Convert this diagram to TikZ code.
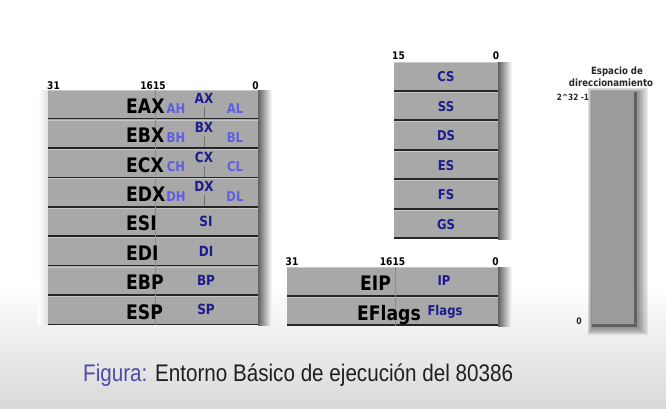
\documentclass[tikz,border=0pt]{standalone}
\usepackage{fontspec}
\newfontfamily\rf{DejaVu Sans}[FakeStretch=0.86]
\newfontfamily\cf{Liberation Sans}[FakeStretch=0.86]
\definecolor{navy}{RGB}{28,28,140}
\definecolor{lblue}{RGB}{95,95,225}
\definecolor{cblue}{RGB}{75,75,170}
\definecolor{boxfill}{RGB}{168,168,168}
\definecolor{boxtop}{RGB}{200,200,200}
\definecolor{sepc}{RGB}{38,38,38}
\definecolor{addrfill}{RGB}{155,155,155}
\tikzset{
  big/.style={font=\rf\bfseries\fontsize{20}{20}\selectfont, inner sep=0pt, anchor=base west, text=black},
  sub/.style={font=\rf\bfseries\fontsize{14}{14}\selectfont, inner sep=0pt, anchor=base, text=navy},
  half/.style={font=\rf\bfseries\fontsize{13.5}{13.5}\selectfont, inner sep=0pt, anchor=base, text=lblue},
  seg/.style={font=\rf\bfseries\fontsize{13.5}{13.5}\selectfont, inner sep=0pt, anchor=base, text=navy},
  bit/.style={font=\rf\bfseries\fontsize{10.5}{10.5}\selectfont, inner sep=0pt, anchor=base, text=black},
  small/.style={font=\rf\bfseries\fontsize{10}{10}\selectfont, inner sep=0pt, anchor=base, text=black!85},
  rowsep/.style={sepc, line width=1.7pt},
  rowtop/.style={boxtop, line width=0.8pt},
  midline/.style={black!45, line width=0.5pt},
  divline/.style={black!55, line width=0.9pt},
}
\newcommand\regrow[4]{%
  \fill[boxfill] (#1,#2) rectangle (#3,#4);
  \draw[rowtop] (#1,#2+0.6) -- (#3,#2+0.6);
  \draw[rowsep] (#1,#4-0.8) -- (#3,#4-0.8);
}
\begin{document}
\begin{tikzpicture}[x=1pt,y=-1pt]
\useasboundingbox (0,0) rectangle (666,408);
% background
\fill[white] (0,0) rectangle (666,408);
\shade[top color=white, bottom color=black!15] (0,285) rectangle (666,408);

% ---------- general registers ----------
\shade[left color=white, right color=black!12] (38,90) rectangle (48,325.2);
\shade[left color=black!62, right color=white] (258,90) rectangle (272,325.2);
\foreach \i in {0,...,7} {
  \pgfmathsetmacro\yt{90+29.4*\i}
  \pgfmathsetmacro\yb{90+29.4*(\i+1)}
  \regrow{48}{\yt}{258}{\yb}
}
\draw[midline] (155,90) -- (155,325);
\foreach \i in {0,...,3} {
  \pgfmathsetmacro\yt{90+29.4*\i}
  \draw[divline] (204,\yt+17) -- (204,\yt+28);
}
\node[bit] (b31) at (53.5,89) {31};
\node[bit] (b1615) at (153,89) {1615};
\node[bit] (b0) at (255.5,89) {0};

\node[big] (eax) at (126,113.3) {EAX};
\node[big] (ebx) at (126,142.7) {EBX};
\node[big] (ecx) at (126,172.1) {ECX};
\node[big] (edx) at (126,201.5) {EDX};
\node[big] (esi) at (126,230.9) {ESI};
\node[big] (edi) at (126,260.3) {EDI};
\node[big] (ebp) at (126,289.7) {EBP};
\node[big] (esp) at (126,319.1) {ESP};

\node[sub] (ax) at (204,103.5) {AX};
\node[sub] (bx) at (204,132.9) {BX};
\node[sub] (cx) at (204,162.3) {CX};
\node[sub] (dx) at (204,191.7) {DX};
\node[half] (ah) at (176,113) {AH};
\node[half] (bh) at (176,142.4) {BH};
\node[half] (ch) at (176,171.8) {CH};
\node[half] (dh) at (176,201.2) {DH};
\node[half] (al) at (235,113) {AL};
\node[half] (bl) at (235,142.4) {BL};
\node[half] (cl) at (235,171.8) {CL};
\node[half] (dl) at (235,201.2) {DL};
\node[sub] (si) at (206,226.7) {SI};
\node[sub] (di) at (206,256.1) {DI};
\node[sub] (bp) at (206,285.5) {BP};
\node[sub] (sp) at (206,314.9) {SP};

% ---------- segment registers ----------
\shade[left color=black!62, right color=white] (498,62) rectangle (512,239);
\foreach \i in {0,...,5} {
  \pgfmathsetmacro\yt{62+29.5*\i}
  \pgfmathsetmacro\yb{62+29.5*(\i+1)}
  \regrow{394}{\yt}{498}{\yb}
}
\node[bit] (s15) at (398.5,59.5) {15};
\node[bit] (s0) at (496,59.5) {0};
\node[seg] (cs) at (446,81.7) {CS};
\node[seg] (ss) at (446,111.2) {SS};
\node[seg] (ds) at (446,140.7) {DS};
\node[seg] (es) at (446,170.2) {ES};
\node[seg] (fs) at (446,199.7) {FS};
\node[seg] (gs) at (446,229.2) {GS};

% ---------- EIP / EFlags ----------
\shade[left color=black!62, right color=white] (498,267) rectangle (512,326);
\regrow{287}{267}{498}{296.5}
\regrow{287}{296.5}{498}{326}
\draw[midline] (395,267) -- (395,326);
\node[bit] (e31) at (292,265.5) {31};
\node[bit] (e1615) at (392.5,265.5) {1615};
\node[bit] (e0) at (495.5,265.5) {0};
\node[big] (eip) at (360,290.7) {EIP};
\node[big] (eflags) at (357,320.3) {EFlags};
\node[seg] (ip) at (444,285) {IP};
\node[seg] (flags) at (445,315) {Flags};

% ---------- address space ----------
\foreach \k in {1,...,7} {
  \fill[black, opacity=0.07] (592-0.6*\k,92-0.6*\k) rectangle (637+1.6*\k,327+1.2*\k);
}
\fill[addrfill] (592,92) rectangle (637,327);
\fill[black!62] (634,92) rectangle (637,327);
\fill[black!62] (592,324) rectangle (637,327);
\node[small] (esp1) at (617,74) {Espacio de};
\node[small] (esp2) at (611,86) {direccionamiento};
\node[font=\rf\bfseries\fontsize{8.5}{8.5}\selectfont, inner sep=0pt, anchor=base, text=black!85] (top) at (573,100) {2\string^32 -1};
\node[font=\rf\bfseries\fontsize{9}{9}\selectfont, inner sep=0pt, anchor=base, text=black!85] (zero) at (579,324) {0};

% ---------- caption ----------
\node[font=\cf\fontsize{24}{24}\selectfont, inner sep=0pt, anchor=base west] (cap) at (83,381)
  {\textcolor{cblue}{Figura:} \textcolor{black!88}{Entorno Básico de ejecución del 80386}};
\end{tikzpicture}
\end{document}
